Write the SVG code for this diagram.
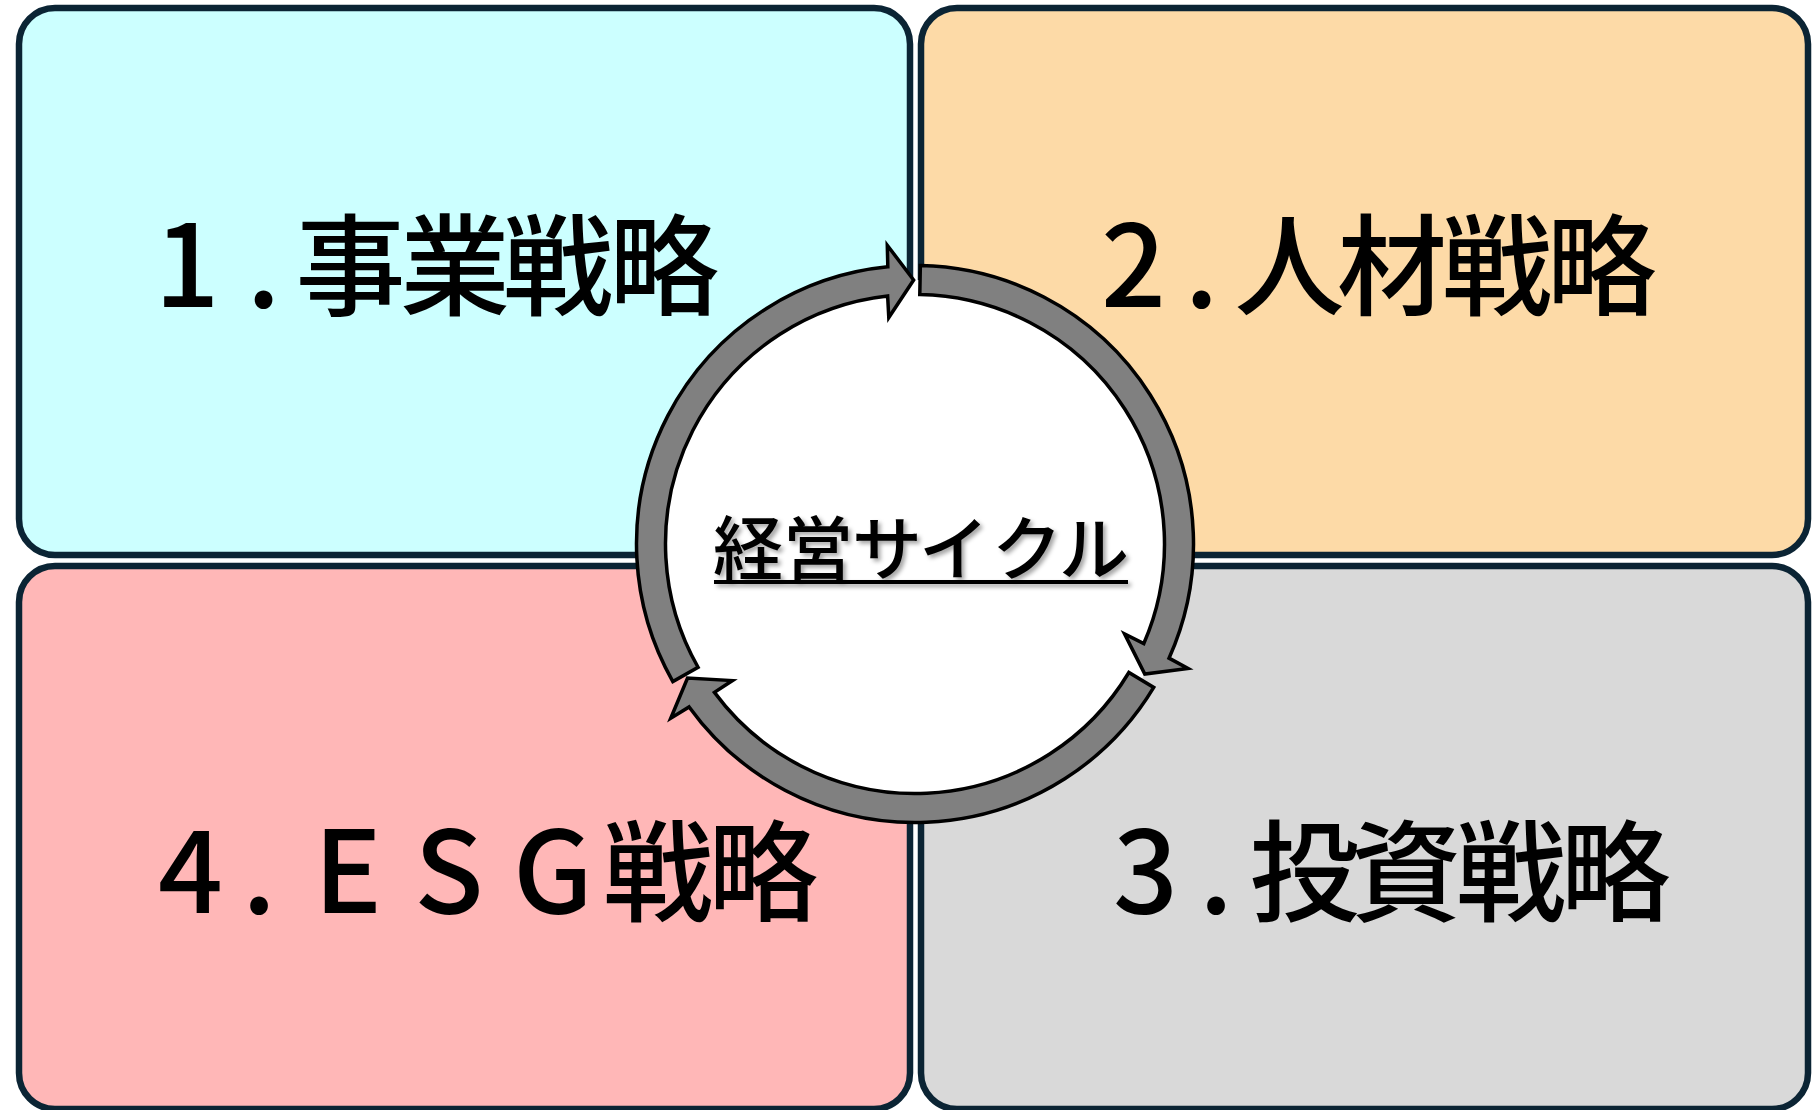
<svg xmlns="http://www.w3.org/2000/svg" width="1812" height="1110" viewBox="0 0 1812 1110">
<defs>
<style>
.box{stroke:#0B2434;stroke-width:6.5}
.title{font-family:"Noto Sans CJK JP","Noto Sans",sans-serif;font-weight:500;font-size:110px;fill:#000;text-anchor:middle}
.num{font-size:114px}
.seg{fill:#808080;stroke:#000;stroke-width:3.5;stroke-linejoin:miter}
.center{font-family:"Noto Sans CJK JP","Noto Sans",sans-serif;font-weight:500;font-size:70px;fill:#000;text-anchor:middle}
</style>
<filter id="shadow" x="-10%" y="-20%" width="120%" height="150%">
<feDropShadow dx="3" dy="3" stdDeviation="2" flood-color="#000" flood-opacity="0.35"/>
</filter>
</defs>
<rect width="1812" height="1110" fill="#fff"/>
<g id="node-business">
<rect class="box" x="19" y="8" width="891" height="547" rx="36" fill="#CCFFFF"/>
<text class="title" y="307"><tspan class="num" x="187">1</tspan><tspan class="num" x="263.5">.</tspan><tspan x="350.5 455 558 664">事業戦略</tspan></text>
</g>
<g id="node-hr">
<rect class="box" x="921" y="8" width="887" height="547" rx="36" fill="#FDDAA7"/>
<text class="title" y="307"><tspan class="num" x="1133.5">2</tspan><tspan class="num" x="1201.5">.</tspan><tspan x="1289.5 1392 1497 1601.5">人材戦略</tspan></text>
</g>
<g id="node-invest">
<rect class="box" x="921" y="566" width="887" height="543" rx="36" fill="#D9D9D9"/>
<text class="title" y="913"><tspan class="num" x="1145.5">3</tspan><tspan class="num" x="1216">.</tspan><tspan x="1304.5 1406 1511 1615.5">投資戦略</tspan></text>
</g>
<g id="node-esg">
<rect class="box" x="19" y="566" width="891" height="543" rx="36" fill="#FFB7B7"/>
<text class="title" y="913"><tspan class="num" x="190.5">4</tspan><tspan class="num" x="259">.</tspan><tspan class="num" x="348 449 553">ESG</tspan><tspan x="658 763">戦略</tspan></text>
</g>
<g id="node-cycle">
<circle cx="915" cy="544" r="264" fill="#fff"/>
</g>
<g id="connectors">
<path class="seg" d="M920.35,265.55 A278.5,278.5 0 0 1 1169.03,658.16 L1187.99,668.41 L1144.78,674 L1124.56,633.82 L1143.81,643.49 A249.5,249.5 0 0 0 919.79,294.55 Z"/>
<path class="seg" d="M1153.72,687.44 A278.5,278.5 0 0 1 689.12,706.91 L670.76,718.21 L687.53,677.99 L732.43,680.58 L714.44,692.41 A249.5,249.5 0 0 0 1128.86,672.5 Z"/>
<path class="seg" d="M672.85,681.56 A278.5,278.5 0 0 1 887.82,266.83 L887.29,245.28 L913.62,280 L888.79,317.51 L887.62,296 A249.5,249.5 0 0 0 698.06,667.24 Z"/>
</g>
<g id="cycle-label" filter="url(#shadow)">
<text class="center" y="575" x="748 818 887 954 1027 1094">経営サイクル</text>
<rect x="714" y="580" width="414" height="4" fill="#000"/>
</g>
</svg>
